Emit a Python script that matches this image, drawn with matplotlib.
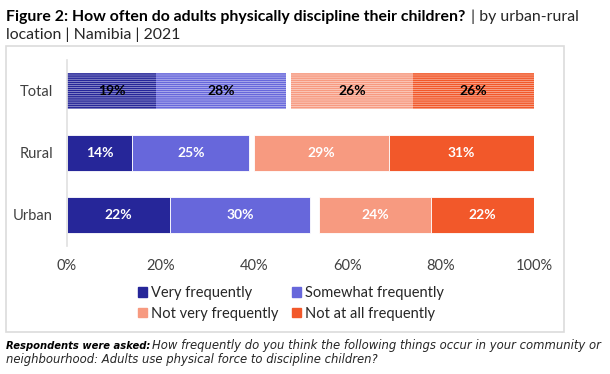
import numpy as np
import matplotlib
matplotlib.use('Agg')
from matplotlib import pyplot as plt
from matplotlib.patches import Patch, Rectangle

# data
groups = ['Total', 'Rural', 'Urban']
very_freq = [19, 14, 22]
somewhat_freq = [28, 25, 30]
not_very_freq = [26, 29, 24]
not_at_all_freq = [26, 31, 22]
xticks = [0, 20, 40, 60, 80, 100]

colors = ['#262699', '#6767DB', '#F79A80', '#F2582A']
names = ['Very frequently', 'Somewhat frequently', 'Not very frequently', 'Not at all frequently']

plt.rcParams['font.family'] = ['Lato', 'DejaVu Sans']
plt.rcParams['hatch.linewidth'] = 1.2

fig = plt.figure(figsize=(6.1, 3.74), dpi=100)
ax = fig.add_axes([67/610, 1-246/374, 467/610, 186/374])

y = np.arange(len(groups))
h = 0.58

for i in range(len(groups)):
    total_row = (i == 0)
    # negative side stacks from 0, positive side stacks back from 100
    left_vals = [very_freq[i], somewhat_freq[i]]
    right_vals = [not_very_freq[i], not_at_all_freq[i]]
    starts = [0, very_freq[i],
              100 - right_vals[0] - right_vals[1], 100 - right_vals[1]]
    widths = left_vals + right_vals
    for k in range(4):
        if total_row:
            ax.barh(y[i], widths[k], left=starts[k], height=h, color='white',
                    edgecolor=colors[k], hatch='--------', linewidth=0)
            tc = 'black'
        else:
            ax.barh(y[i], widths[k], left=starts[k], height=h, color=colors[k],
                    edgecolor='white', linewidth=0.6)
            tc = 'white'
        ax.text(starts[k] + widths[k]/2, y[i], '%d%%' % widths[k], ha='center',
                va='center', color=tc, fontsize=10, fontweight='bold')

ax.set_xlim(0, 100)
ax.set_ylim(2.5, -0.5)
ax.set_yticks(y)
ax.set_yticklabels(groups, fontsize=10.5, color='#404040')
ax.set_xticks(xticks)
ax.set_xticklabels(['%d%%' % t for t in xticks], fontsize=10.5, color='#404040')
ax.tick_params(length=0, pad=9)
ax.tick_params(axis='y', pad=10)
for s in ['top', 'right', 'bottom']:
    ax.spines[s].set_visible(False)
ax.spines['left'].set_color('#E0E0E0')
ax.spines['left'].set_linewidth(1.2)

# legend
handles = [Patch(color=colors[k], label=names[k]) for k in [0, 2, 1, 3]]
fig.legend(handles=handles, ncol=2, loc='upper left', bbox_to_anchor=(128/610, 1-276/374),
           frameon=False, fontsize=10.5, handlelength=0.6, handleheight=0.6,
           handletextpad=0.3, columnspacing=0.9, labelspacing=0.45, labelcolor='#262626',
           borderpad=0.2)

# chart border
fig.add_artist(Rectangle((6/610, 1-332/374), 558/610, 286/374, transform=fig.transFigure,
                         fill=False, edgecolor='#DCDCDC', linewidth=1.2))

# title, bold part then regular part
fig.canvas.draw()
r = fig.canvas.get_renderer()
t1 = fig.text(6/610, 1-21/374, 'Figure 2: How often do adults physically discipline their children?',
              fontsize=11.4, fontweight='bold', color='black')
bb = t1.get_window_extent(renderer=r)
fig.text(bb.x1/610 + 0.002, 1-21/374, ' | by urban-rural', fontsize=11.4, color='#262626')
fig.text(6/610, 1-39/374, 'location | Namibia | 2021', fontsize=11.4, color='#262626')

# footer
t2 = fig.text(6/610, 1-349/374, 'Respondents were asked:', fontsize=7.2, family='DejaVu Sans',
              fontweight='bold', style='italic', color='black')
bb2 = t2.get_window_extent(renderer=r)
fig.text(bb2.x1/610 + 0.003, 1-349/374,
         'How frequently do you think the following things occur in your community or',
         fontsize=8.4, style='italic', color='#262626', family='DejaVu Sans')
fig.text(6/610, 1-363/374, 'neighbourhood: Adults use physical force to discipline children?',
         fontsize=8.4, style='italic', color='#262626', family='DejaVu Sans')

plt.savefig('out.png', dpi=100)
